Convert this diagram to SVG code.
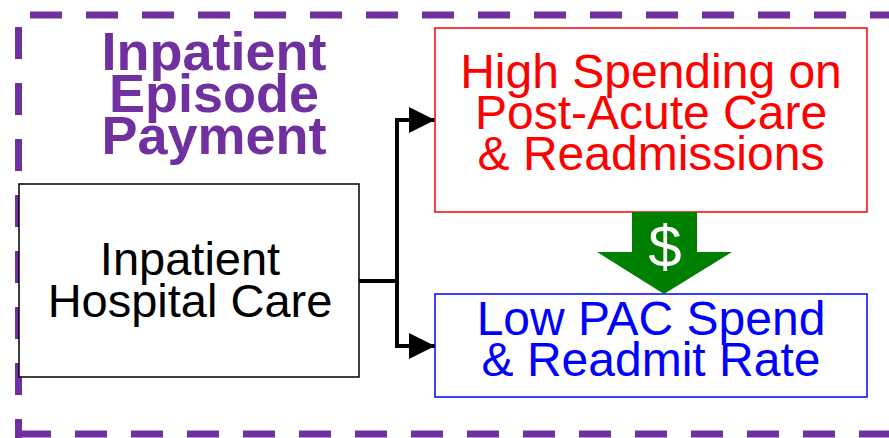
<svg xmlns="http://www.w3.org/2000/svg" width="889" height="438" viewBox="0 0 889 438">
<style>
.dash{stroke:#7030A0;stroke-width:7;stroke-dasharray:32 24;fill:none}
.t{font-family:"Liberation Sans",Arial,sans-serif;text-anchor:middle}
.title{font-weight:bold;font-size:54px;fill:#7030A0}
.conn{stroke:#000;stroke-width:4;fill:none;stroke-linejoin:miter}
</style>
<defs>
<marker id="ah" viewBox="0 0 10 10" refX="10" refY="5" markerWidth="27" markerHeight="26" markerUnits="userSpaceOnUse" orient="auto"><path d="M0,0 L10,5 L0,10 Z" fill="#000"/></marker>
</defs>
<g id="frame">
<line class="dash" x1="30" y1="15" x2="900" y2="15"/>
<line class="dash" x1="18.5" y1="27" x2="18.5" y2="438"/>
<line class="dash" x1="19" y1="434" x2="900" y2="434"/>
</g>
<g id="title">
<text class="t title" x="214" y="70">Inpatient</text>
<text class="t title" x="214" y="112">Episode</text>
<text class="t title" x="214" y="154">Payment</text>
</g>
<g id="connectors">
<line class="conn" x1="359" y1="281" x2="397" y2="281"/>
<polyline class="conn" points="408,120 397,120 397,346 408,346"/>
<line x1="397" y1="120" x2="435" y2="120" stroke="#000" stroke-width="4" marker-end="url(#ah)"/>
<line x1="397" y1="346" x2="435" y2="346" stroke="#000" stroke-width="4" marker-end="url(#ah)"/>
</g>
<g id="hospital">
<rect x="19" y="184" width="340" height="193" fill="#fff" stroke="#000" stroke-width="1.5"/>
<text class="t" x="190" y="275" font-size="47">Inpatient</text>
<text class="t" x="190" y="317" font-size="47">Hospital Care</text>
</g>
<g id="high">
<rect x="435" y="28" width="432" height="184" fill="#fff" stroke="#FF0000" stroke-width="1.5"/>
<text class="t" x="651" y="88" font-size="48" fill="#FF0000">High Spending on</text>
<text class="t" x="651" y="129" font-size="48" fill="#FF0000">Post-Acute Care</text>
<text class="t" x="651" y="170" font-size="48" fill="#FF0000">&amp; Readmissions</text>
</g>
<g id="low">
<rect x="435" y="294" width="432" height="103" fill="#fff" stroke="#0000FF" stroke-width="1.5"/>
<text class="t" x="651" y="335" font-size="48" fill="#0000FF">Low PAC Spend</text>
<text class="t" x="651" y="376" font-size="48" fill="#0000FF">&amp; Readmit Rate</text>
</g>
<g id="dollar">
<polygon points="632,212 697,212 697,252 732,252 664,294 597,252 632,252" fill="#008000"/>
<text class="t" x="665" y="267" font-size="60" fill="#fff">$</text>
</g>
</svg>
